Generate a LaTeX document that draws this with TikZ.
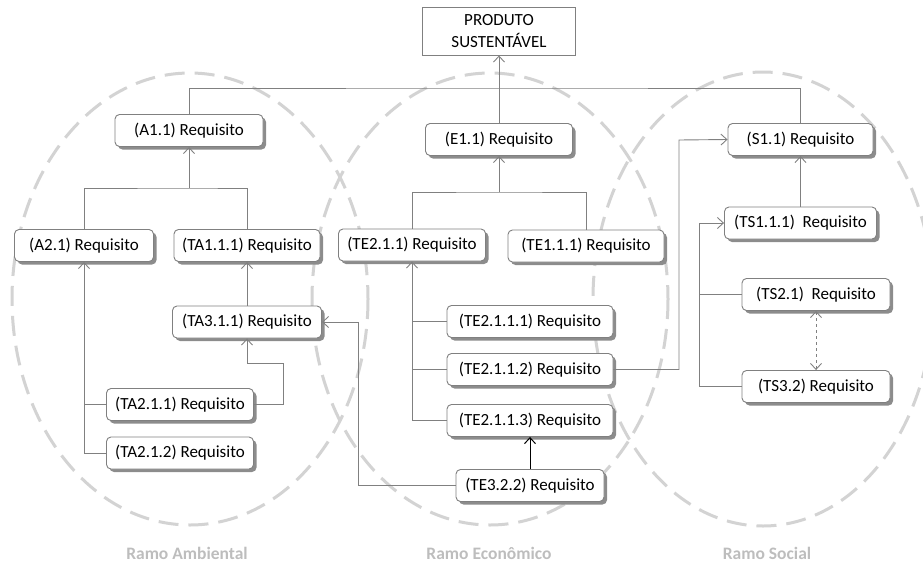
\documentclass[tikz,border=0pt]{standalone}
\usepackage{fontspec}
\setmainfont{Carlito}
\usetikzlibrary{arrows.meta,shadows}

\definecolor{linegray}{HTML}{808080}
\definecolor{ringgray}{HTML}{D3D3D3}
\definecolor{labelgray}{HTML}{BDBDBD}
\definecolor{shadowgray}{HTML}{8C8C8C}

\tikzset{
  req/.style={draw=linegray, line width=0.9pt, fill=white, rounded corners=4.5pt,
    minimum height=32pt, inner sep=0pt, font=\fontsize{17}{20}\selectfont,
    drop shadow={shadow xshift=3pt, shadow yshift=-3pt, fill=shadowgray, opacity=1}},
  topbox/.style={draw=linegray, line width=0.9pt, fill=white, minimum width=153pt,
    minimum height=48pt, inner sep=0pt, align=center,
    font=\fontsize{17}{22}\selectfont},
  ring/.style={draw=ringgray, line width=3pt, dash pattern=on 20pt off 10pt},
  ramo/.style={text=labelgray, font=\fontsize{17.5}{20}\selectfont\bfseries},
  conn/.style={draw=linegray, line width=0.9pt},
  darkconn/.style={draw=black, line width=1pt},
  arr/.style={-{Straight Barb[length=6pt,width=11pt]}},
  dblarr/.style={{Straight Barb[length=6pt,width=11pt]}-{Straight Barb[length=6pt,width=11pt]}}
}

\begin{document}
\begin{tikzpicture}[x=1pt,y=-1pt]
\useasboundingbox (0,0) rectangle (923,565);
\clip (0,0) rectangle (923,565);

% the three branch areas
\draw[ring] (190,299) ellipse [x radius=178, y radius=226];
\draw[ring] (490,299) ellipse [x radius=178, y radius=226];
\draw[ring] (763,299) ellipse [x radius=170, y radius=227];

\node[ramo] (ramoA) at (187,553) {Ramo Ambiental};
\node[ramo] (ramoE) at (489,553) {Ramo Econômico};
\node[ramo] (ramoS) at (767,553) {Ramo Social};

% requirement boxes
\node[topbox] (prod) at (499,31) {PRODUTO\\SUSTENTÁVEL};

\node[req, minimum width=148pt] (A11)  at (189,130.5) {(A1.1) Requisito};
\node[req, minimum width=147pt] (E11)  at (499,139.5) {(E1.1) Requisito};
\node[req, minimum width=145pt] (S11)  at (800.5,139.5) {(S1.1) Requisito};

\node[req, minimum width=139pt] (A21)   at (84,245.5) {(A2.1) Requisito};
\node[req, minimum width=146pt] (TA111) at (247,245.5) {(TA1.1.1) Requisito};
\node[req, minimum width=147pt] (TE211) at (412,245) {(TE2.1.1) Requisito};
\node[req, minimum width=156pt] (TE111) at (586,246) {(TE1.1.1) Requisito};

\node[req, minimum width=152pt] (TS111) at (800.5,223) {(TS1.1.1)\ \ Requisito};
\node[req, minimum width=148pt] (TS21)  at (816,294.5) {(TS2.1)\ \ Requisito};
\node[req, minimum width=148pt] (TS32)  at (816,386.5) {(TS3.2) Requisito};

\node[req, minimum width=149pt] (TA311) at (247,322) {(TA3.1.1) Requisito};
\node[req, minimum width=147pt] (TA211) at (180,404.5) {(TA2.1.1) Requisito};
\node[req, minimum width=147pt] (TA212) at (180,453) {(TA2.1.2) Requisito};

\node[req, minimum width=166pt] (TE2111) at (530,321.5) {(TE2.1.1.1) Requisito};
\node[req, minimum width=166pt] (TE2112) at (530,369.5) {(TE2.1.1.2) Requisito};
\node[req, minimum width=166pt] (TE2113) at (530,420.5) {(TE2.1.1.3) Requisito};
\node[req, minimum width=148pt] (TE322)  at (530,485.5) {(TE3.2.2) Requisito};

% junction points of the connectors
\coordinate (topbus) at (499,88);
\coordinate (abus)   at (189,188);
\coordinate (ebus)   at (499,192);
\coordinate (tajog)  at (283,363);
\coordinate (crossx) at (358,322);
\coordinate (sjog)   at (679,140);
\coordinate (tsbus)  at (699,386.5);

% top level
\draw[conn, arr] (E11.north) -- (prod.south);
\draw[conn] (A11.north) |- (topbus) -| (S11.north);

% environmental branch
\draw[conn] (A21.north) |- (abus) -| (TA111.north);
\draw[conn, arr] (abus) -- (A11.south);
\draw[conn, arr] (TA311.north) -- (TA111.south);
\draw[conn, arr] (TA212.west) -| (A21.south);
\draw[conn] (TA211.west) -- (TA211.west -| A21.south);
\draw[conn, arr] (TA211.east) -| (tajog) -| (TA311.south);

% economic branch
\draw[conn] (TE211.north) |- (ebus) -| (TE111.north);
\draw[conn, arr] (ebus) -- (E11.south);
\draw[conn, arr] (TE2113.west) -| (TE211.south);
\draw[conn] (TE2111.west) -- (TE2111.west -| TE211.south);
\draw[conn] (TE2112.west) -- (TE2112.west -| TE211.south);
\draw[darkconn, arr] (TE322.north) -- (TE2113.south);
\draw[conn, arr] (TE322.west) -| (crossx) -- (TA311.east);
\draw[conn, arr] (TE2112.east) -| (sjog) -- (S11.west);

% social branch
\draw[conn, arr] (TS111.north) -- (S11.south);
\draw[conn, arr] (TS32.west) -- (tsbus) |- (TS111.west);
\draw[conn] (TS21.west) -- (TS21.west -| tsbus);
\draw[conn, dashed, dblarr] (TS21.south) -- (TS32.north);
\end{tikzpicture}
\end{document}
